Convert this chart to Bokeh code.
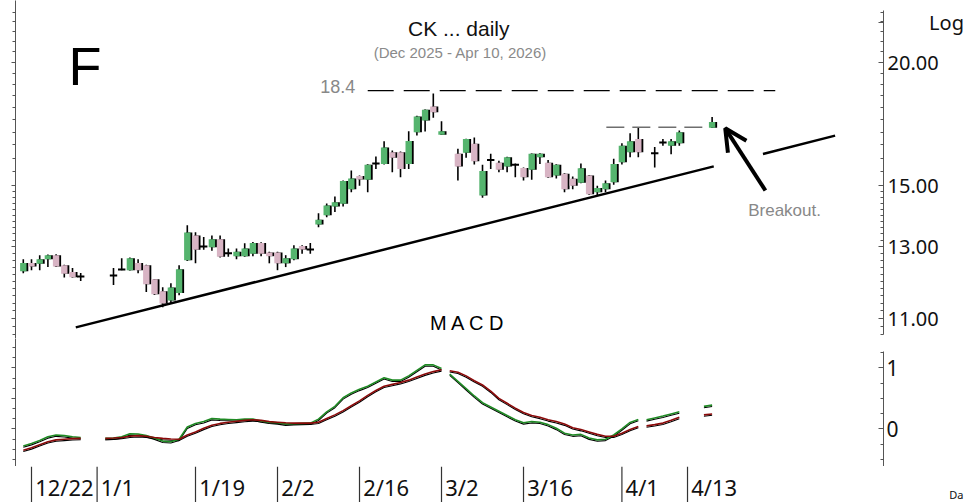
import numpy as np
from bokeh.plotting import figure
from bokeh.layouts import column
from bokeh.models import (LogAxis, LinearAxis, FixedTicker, Range1d, Label, Grid,
                          ColumnDataSource, Arrow, OpenHead, PrintfTickFormatter, LogScale,
                          CustomJSTickFormatter)
from bokeh.embed import file_html
from bokeh.resources import INLINE
from bokeh.core.properties import value

# ---------------- data ----------------
candle_slot = [-1, 0, 1, 2, 3, 4, 5, 6,
               10, 11, 12, 13, 14, 15, 16, 17, 18, 19, 20, 21, 22, 23, 24, 25, 26, 27, 28, 29,
               30, 31, 32, 33, 34, 35, 36, 37, 38, 39, 40, 41, 42, 43, 44, 45, 46, 47, 48, 49, 50,
               52, 53, 54, 55, 56, 57, 58, 59, 60, 61, 62, 63, 64, 65, 66, 67, 68, 69, 70, 71, 72, 73, 74,
               76, 77, 78, 79, 83]
candle_open = [12.28, 12.52, 12.50, 12.63, 12.75, 12.45, 12.26, 12.13,
               12.16, 12.33, 12.31, 12.52, 12.45, 12.05, 11.72, 11.47, 11.67, 12.60, 13.35, 13.01, 12.99, 13.23, 12.81, 12.72, 12.72, 12.79, 13.12, 12.83,
               12.83, 12.51, 12.63, 13.03, 12.92, 13.70, 14.00, 14.29, 14.38, 14.87, 15.34, 15.21, 15.80, 15.78, 16.22, 16.22, 15.78, 16.99, 17.47, 18.05, 16.89,
               16.16, 16.20, 16.54, 14.66, 15.93, 15.82, 15.69, 15.75, 15.63, 15.57, 16.03, 15.82, 15.36, 15.42, 15.24, 15.10, 15.36, 14.77, 14.87, 15.12, 15.84, 16.22, 16.73,
               16.18, 16.59, 16.47, 16.56, 17.17]
candle_high = [12.63, 12.63, 12.75, 12.77, 12.78, 12.47, 12.37, 12.23,
               12.37, 12.66, 12.68, 12.63, 12.47, 12.06, 11.83, 11.94, 12.45, 13.67, 13.45, 13.30, 13.35, 13.35, 12.95, 12.95, 13.11, 13.15, 13.14, 12.85,
               12.85, 12.75, 13.05, 13.05, 13.12, 14.06, 14.39, 14.62, 15.18, 15.54, 15.36, 15.77, 16.06, 16.64, 16.28, 16.25, 17.03, 17.66, 17.92, 18.60, 17.44,
               16.35, 16.74, 16.79, 15.75, 16.16, 15.90, 16.05, 15.80, 15.65, 16.17, 16.18, 15.93, 15.77, 15.44, 15.32, 15.80, 15.38, 15.00, 15.18, 15.97, 16.56, 16.95, 17.18,
               16.42, 16.73, 16.73, 17.06, 17.61]
candle_low = [12.22, 12.31, 12.31, 12.40, 12.40, 12.10, 12.10, 12.00,
              11.89, 12.31, 12.30, 12.22, 11.70, 11.62, 11.29, 11.39, 11.61, 12.58, 12.51, 12.91, 12.88, 12.68, 12.70, 12.63, 12.70, 12.72, 12.72, 12.51,
              12.31, 12.40, 12.60, 12.79, 12.79, 13.61, 13.93, 14.10, 14.29, 14.77, 15.00, 14.77, 15.59, 15.76, 15.48, 15.30, 15.59, 16.86, 17.02, 17.58, 16.88,
              15.18, 16.01, 15.76, 14.58, 15.59, 15.48, 15.48, 15.30, 15.18, 15.21, 15.78, 15.28, 15.25, 14.77, 14.87, 15.08, 14.68, 14.66, 14.77, 15.03, 15.76, 16.03, 16.03,
              15.65, 16.47, 16.14, 16.47, 17.16]
candle_close = [12.52, 12.42, 12.63, 12.75, 12.42, 12.21, 12.11, 12.13,
                12.16, 12.33, 12.66, 12.31, 11.91, 11.64, 11.39, 11.82, 12.34, 13.44, 12.91, 13.01, 13.23, 12.70, 12.81, 12.85, 12.95, 13.12, 12.79, 12.72,
                12.51, 12.66, 12.95, 12.92, 12.92, 13.85, 14.32, 14.43, 15.16, 15.25, 15.22, 15.75, 15.80, 16.40, 16.01, 15.59, 16.65, 17.63, 17.91, 17.81, 17.03,
                15.69, 16.73, 15.88, 15.52, 15.93, 15.57, 16.03, 15.75, 15.30, 16.16, 16.16, 15.30, 15.75, 14.87, 15.00, 15.62, 14.70, 14.92, 15.08, 15.78, 16.47, 16.64, 16.22,
                16.18, 16.59, 16.64, 16.99, 17.41]

nan = float("nan")
macd_slot = [-1, 0, 1, 2, 3, 4, 5, 6, nan,
             9, 10, 11, 12, 13, 14, 15, 16, 17, 18, 19, 20, 21, 22, 23, 24, 25, 26, 27, 28, 29,
             30, 31, 32, 33, 34, 35, 36, 37, 38, 39, 40, 41, 42, 43, 44, 45, 46, 47, 48, 49, 50, nan,
             51, 52, 53, 54, 55, 56, 57, 58, 59, 60, 61, 62, 63, 64, 65, 66, 67, 68, 69, 70, 71, 72, 73, 74, nan,
             75, 76, 77, 78, 79, nan, 82, 83]
macd_line = [-0.28, -0.24, -0.19, -0.13, -0.10, -0.11, -0.13, -0.14, nan,
             -0.155, -0.15, -0.13, -0.08, -0.085, -0.11, -0.15, -0.20, -0.21, -0.17, 0.03, 0.09, 0.12, 0.17, 0.16, 0.155, 0.15, 0.16, 0.16, 0.13, 0.11,
             0.10, 0.08, 0.085, 0.09, 0.095, 0.16, 0.28, 0.37, 0.51, 0.59, 0.65, 0.70, 0.77, 0.84, 0.80, 0.80, 0.87, 0.96, 1.05, 1.05, 0.99, nan,
             0.90, 0.78, 0.66, 0.54, 0.43, 0.36, 0.29, 0.22, 0.15, 0.10, 0.12, 0.11, 0.07, 0.01, -0.07, -0.10, -0.09, -0.15, -0.18, -0.17, -0.10, 0.00, 0.105, 0.155, nan,
             0.15, 0.18, 0.21, 0.245, 0.28, nan, 0.37, 0.39]
signal_line = [-0.35, -0.31, -0.26, -0.21, -0.18, -0.17, -0.16, -0.155, nan,
               -0.155, -0.15, -0.14, -0.12, -0.11, -0.12, -0.14, -0.155, -0.165, -0.17, -0.10, -0.05, 0.01, 0.06, 0.09, 0.11, 0.125, 0.14, 0.15, 0.14, 0.12,
               0.11, 0.10, 0.095, 0.095, 0.095, 0.11, 0.17, 0.23, 0.30, 0.38, 0.46, 0.55, 0.63, 0.70, 0.73, 0.76, 0.80, 0.85, 0.90, 0.94, 0.97, nan,
               0.955, 0.93, 0.87, 0.79, 0.72, 0.62, 0.50, 0.42, 0.34, 0.27, 0.22, 0.19, 0.15, 0.12, 0.08, 0.02, -0.01, -0.05, -0.09, -0.12, -0.12, -0.07, -0.01, 0.04, nan,
               0.05, 0.07, 0.095, 0.14, 0.19, nan, 0.23, 0.245]

date_labels = ["12/22", "1/1", "1/19", "2/2", "2/16", "3/2", "3/16", "4/1", "4/13"]
date_slots = [0, 8, 20, 30, 40, 50, 60, 72, 80]

price_ticks = [11, 13, 15, 20]
log_tag_price = 21.96          # where the "Log" tag sits beside the price axis
macd_ticks = [0, 1]

trend_slot = [5.4, 83.2, nan, 89.2, 98.0]
trend_price = [10.77, 15.69, nan, 16.15, 16.86]

resistance_slot = [41.0, 90.7]
resistance_price = [18.73, 18.73]
breakout_slot = [70.1, 82.6]
breakout_price = [17.19, 17.19]

# ---------------- style ----------------
GREEN = "#55b46e"
PINK = "#d8b4c4"
SANS = "Noto Sans"
ARIAL = "Liberation Sans"
X0 = -1.951
X1 = 103.9
NB = "\\u00a0"


def no_grid(fig):
    for g in fig.select(type=Grid):
        g.visible = False


price = figure(width=967, height=338, y_axis_type="log",
               x_range=Range1d(X0, X1), y_range=Range1d(10.494, 23.12),
               x_axis_location=None, y_axis_location=None,
               min_border_left=15, min_border_right=84, min_border_top=0, min_border_bottom=0,
               toolbar_location=None, output_backend="svg")
price.y_scale = LogScale()
price.outline_line_color = None
no_grid(price)

price_minor = [round(v, 2) for v in np.arange(10.6, 15.0, 0.2)] + [round(v, 2) for v in np.arange(15.5, 23.0, 0.5)]

r_ax = LogAxis(ticker=FixedTicker(ticks=price_ticks + [log_tag_price], minor_ticks=price_minor),
               formatter=CustomJSTickFormatter(
                   code="return tick > 21 ? '" + NB * 8 + "Log' : tick.toFixed(2);"))
r_ax.bounds = (10.6, 22.6)
r_ax.major_tick_in = 5
r_ax.major_tick_out = 0
r_ax.minor_tick_in = 3
r_ax.minor_tick_out = 0
r_ax.major_label_standoff = 4
r_ax.major_label_text_font = SANS
r_ax.major_label_text_font_size = "20px"
r_ax.major_label_text_color = "#111111"
r_ax.axis_line_color = "#555555"
r_ax.major_tick_line_color = "#555555"
r_ax.minor_tick_line_color = "#555555"
price.add_layout(r_ax, "right")

l_ax = LogAxis(ticker=FixedTicker(ticks=price_ticks, minor_ticks=price_minor),
               formatter=PrintfTickFormatter(format=""))
l_ax.major_tick_in = 0
l_ax.major_tick_out = 4
l_ax.minor_tick_in = 0
l_ax.minor_tick_out = 3
l_ax.major_label_text_font_size = "0px"
l_ax.major_label_standoff = 0
l_ax.axis_line_color = "#555555"
l_ax.major_tick_line_color = "#555555"
l_ax.minor_tick_line_color = "#555555"
price.add_layout(l_ax, "left")

x = np.array(candle_slot, dtype=float)
o = np.array(candle_open)
h = np.array(candle_high)
lo = np.array(candle_low)
c = np.array(candle_close)
up = c > o
dn = c < o
dj = c == o
top = np.maximum(o, c)
bot = np.minimum(o, c)
body = ~dj
BW = 0.78

price.segment(x0=x, y0=h, x1=x, y1=lo, line_color="black", line_width=1.6)
price.vbar(x=x[body] + 0.22, width=BW, top=top[body], bottom=bot[body],
           fill_color="black", line_color=None)
price.vbar(x=x[up], width=BW, top=c[up], bottom=o[up], fill_color=GREEN, line_color=None)
price.vbar(x=x[dn], width=BW, top=o[dn], bottom=c[dn], fill_color=PINK, line_color=None)
price.segment(x0=x[dj] - 0.45, y0=o[dj], x1=x[dj] + 0.45, y1=o[dj], line_color="black", line_width=2)

price.line(trend_slot, trend_price, line_color="black", line_width=2.5)
price.line(resistance_slot, resistance_price, line_color="black", line_width=1.4, line_dash="26 10")
price.line(breakout_slot, breakout_price, line_color="#6e6e6e", line_width=1.6, line_dash="18 8")

price.add_layout(Arrow(end=OpenHead(size=22, line_width=4, line_color="black"),
                       x_start=89.5, y_start=14.83, x_end=84.6, y_end=17.15,
                       line_width=4, line_color="black"))

price.add_layout(Label(x=52.1, y=21.65, text="CK ... daily", text_align="center", text_baseline="middle",
                       text_font=ARIAL, text_font_size="21px", text_color="#111111"))
price.add_layout(Label(x=52.3, y=20.47, text="(Dec 2025 - Apr 10, 2026)", text_align="center",
                       text_baseline="middle", text_font=ARIAL, text_font_size="15px",
                       text_color="#8a8a8a"))
price.add_layout(Label(x=4.5, y=19.86, text="F", text_align="left", text_baseline="middle",
                       text_font=ARIAL, text_font_size="54px", text_color="black"))
price.add_layout(Label(x=35.2, y=18.91, text="18.4", text_align="left", text_baseline="middle",
                       text_font=ARIAL, text_font_size="18px", text_color="#888888"))
price.add_layout(Label(x=87.4, y=14.15, text="Breakout.", text_align="left", text_baseline="middle",
                       text_font=ARIAL, text_font_size="17px", text_color="#888888"))
price.add_layout(Label(x=53.2, y=10.89, text="M A C D", text_align="center", text_baseline="middle",
                       text_font=ARIAL, text_font_size="20px", text_color="black"))

# ---------------- MACD ----------------
macd = figure(width=967, height=128, x_range=price.x_range, y_range=Range1d(-0.617, 1.483),
              x_axis_location=None, y_axis_location=None,
              min_border_left=15, min_border_right=84, min_border_top=0, min_border_bottom=0,
              toolbar_location=None, output_backend="svg")
macd.outline_line_color = None
no_grid(macd)

mr = LinearAxis(ticker=FixedTicker(ticks=macd_ticks, minor_ticks=[-0.5, -0.25, 0.25, 0.5, 0.75, 1.25]),
                formatter=PrintfTickFormatter(format="%d"))
mr.bounds = (-0.63, 1.27)
mr.major_tick_in = 5
mr.major_tick_out = 0
mr.minor_tick_in = 3
mr.minor_tick_out = 0
mr.major_label_standoff = 3
mr.major_label_text_font = SANS
mr.major_label_text_font_size = "21px"
mr.major_label_text_color = "#111111"
mr.axis_line_color = "#555555"
mr.major_tick_line_color = "#555555"
mr.minor_tick_line_color = "#555555"
macd.add_layout(mr, "right")

ml = LinearAxis(ticker=FixedTicker(ticks=[0, 0.5, 1], minor_ticks=[round(v, 3) for v in np.arange(-0.5, 1.45, 1 / 6)]),
                formatter=PrintfTickFormatter(format=""))
ml.major_tick_in = 0
ml.major_tick_out = 4
ml.minor_tick_in = 0
ml.minor_tick_out = 3
ml.major_label_text_font_size = "0px"
ml.major_label_standoff = 0
ml.axis_line_color = "#555555"
ml.major_tick_line_color = "#555555"
ml.minor_tick_line_color = "#555555"
macd.add_layout(ml, "left")

mb = LinearAxis(ticker=FixedTicker(ticks=date_slots, minor_ticks=[]),
                formatter=PrintfTickFormatter(format=""))
mb.major_tick_in = 0
mb.major_tick_out = 0
mb.major_label_text_font_size = "0px"
mb.major_label_standoff = 0
mb.axis_line_color = "#333333"
mb.axis_line_width = 1.2
macd.add_layout(mb, "below")

ms = np.array(macd_slot, dtype=float)
mv = np.array(macd_line, dtype=float)
sv = np.array(signal_line, dtype=float)
macd.line(ms, mv - 0.022, line_color="black", line_width=1.1)
macd.line(ms, sv - 0.022, line_color="black", line_width=1.1)
macd.line(ms, mv, line_color="#1f8a24", line_width=1.6)
macd.line(ms, sv, line_color="#8b0a0a", line_width=1.6)

# ---------------- date strip ----------------
dates = figure(width=967, height=36, x_range=price.x_range, y_range=Range1d(0, 1),
               x_axis_location=None, y_axis_location=None,
               min_border_left=15, min_border_right=84, min_border_top=0, min_border_bottom=0,
               toolbar_location=None, output_backend="svg")
dates.outline_line_color = None
no_grid(dates)

ds = ColumnDataSource(dict(x=date_slots, tx=[s + 0.45 for s in date_slots], text=date_labels))
dates.segment(x0="x", y0=0, x1="x", y1=1, source=ds, line_color="#333333", line_width=1.2)
dates.text(x="tx", y=0.42, text="text", source=ds, text_align="left", text_baseline="middle",
           text_font=value(SANS), text_font_size=value("22px"), text_color="#111111")

# small "Da" (date) tag at the far right, carried by an otherwise invisible right axis
da_ax = LinearAxis(ticker=FixedTicker(ticks=[0.22], minor_ticks=[]),
                   formatter=CustomJSTickFormatter(code="return '" + NB * 23 + "Da';"))
da_ax.axis_line_color = None
da_ax.major_tick_line_color = None
da_ax.major_tick_in = 0
da_ax.major_tick_out = 0
da_ax.major_label_standoff = 0
da_ax.major_label_text_font = SANS
da_ax.major_label_text_font_size = "11px"
da_ax.major_label_text_color = "#111111"
dates.add_layout(da_ax, "right")

layout = column(price, macd, dates, spacing=0)
open("out.html", "w").write(file_html(layout, INLINE))
